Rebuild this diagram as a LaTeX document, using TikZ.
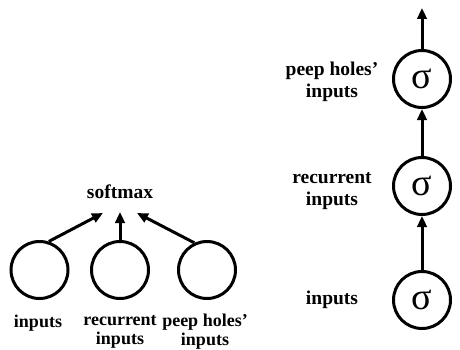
\documentclass[tikz,border=0pt]{standalone}
\usepackage{fontspec}
\setmainfont{Liberation Serif}
\usetikzlibrary{arrows.meta}
\tikzset{
  unit/.style={circle, draw, line width=3pt, minimum size=57pt, inner sep=0pt},
  lbl/.style={font=\fontsize{18}{19}\selectfont\bfseries, align=center, inner sep=0pt},
  rlbl/.style={font=\fontsize{19.5}{21.5}\selectfont\bfseries, align=center, inner sep=0pt},
  conn/.style={line width=3pt, -{Triangle[length=11pt,width=9.5pt]}},
  sig/.style={font=\fontsize{38}{40}\selectfont}
}
\begin{document}
\begin{tikzpicture}[x=1pt,y=1pt]
\useasboundingbox (0,0) rectangle (460,349);
% left: softmax
\node[unit] (c1) at (39.5,79) {};
\node[unit] (c2) at (120,79) {};
\node[unit] (c3) at (207,79) {};
\node[lbl,font=\fontsize{19.5}{21}\selectfont\bfseries] (sm) at (120,157) {softmax};
\coordinate (sa) at (103,136);
\coordinate (sb) at (120,137);
\coordinate (sc) at (137,136);
\draw[conn] (c1.72) -- (sa);
\draw[conn] (c2.north) -- (sb);
\draw[conn] (c3.115) -- (sc);
\node[lbl] (l1) at (38,26) {inputs};
\node[lbl] (l2) at (120,17) {recurrent\\inputs};
\node[lbl] (l3) at (205,17) {peep holes’\\inputs};
% right: sigma chain
\node[unit,sig] (s1) at (422,49) {σ};
\node[unit,sig] (s2) at (422,163) {σ};
\node[unit,sig] (s3) at (422,270) {σ};
\coordinate (out) at (422,341);
\draw[conn] (s1) -- (s2);
\draw[conn] (s2) -- (s3);
\draw[conn] (s3) -- (out);
\node[rlbl] (r1) at (332,49) {inputs};
\node[rlbl] (r2) at (332,158) {recurrent\\inputs};
\node[rlbl] (r3) at (332,267) {peep holes’\\inputs};
\end{tikzpicture}
\end{document}
